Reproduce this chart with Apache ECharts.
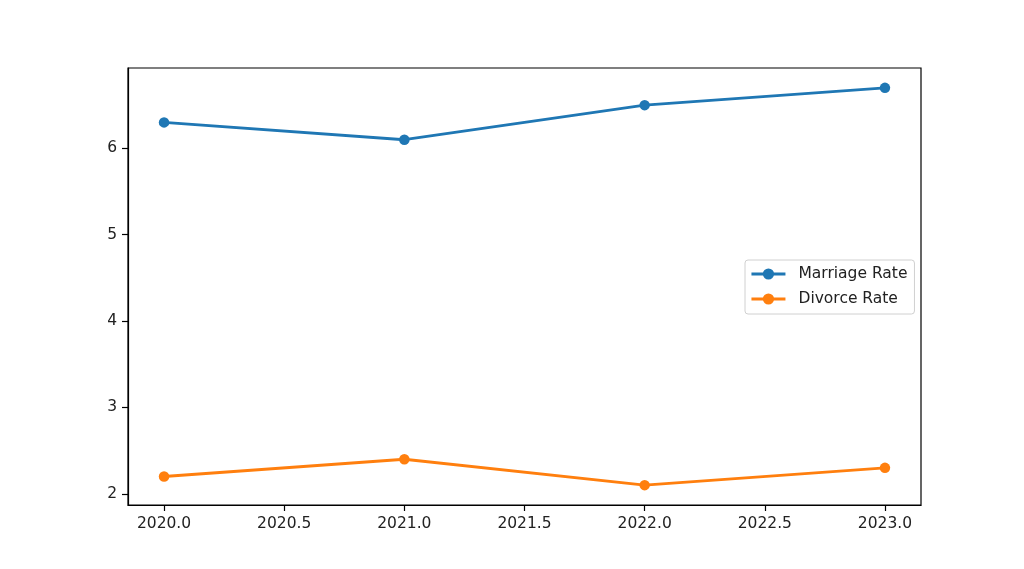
<!DOCTYPE html>
<html>
<head>
<meta charset="utf-8">
<script src="https://cdn.jsdelivr.net/npm/echarts@6/dist/echarts.min.js"></script>
<style>html,body{margin:0;padding:0;background:#fff}#c{width:1024px;height:569px}</style>
</head>
<body>
<div id="c"></div>
<script>
const years = [2020, 2021, 2022, 2023];
const marriageRate = [6.3, 6.1, 6.5, 6.7];
const divorceRate = [2.2, 2.4, 2.1, 2.3];
const xTicks = [2020.0, 2020.5, 2021.0, 2021.5, 2022.0, 2022.5, 2023.0];
const yTicks = [2, 3, 4, 5, 6];
const seriesNames = ['Marriage Rate', 'Divorce Rate'];

const font = 'DejaVu Sans';
const fs = 15.5;
const chart = echarts.init(document.getElementById('c'), null, {renderer: 'canvas'});
const mk = (name, data, color) => ({
  name, type: 'line', data: years.map((y, i) => [y, data[i]]),
  symbol: 'circle', symbolSize: 10.5, showSymbol: true,
  lineStyle: {width: 2.9, color}, itemStyle: {color},
  emphasis: {disabled: true}, animation: false
});
chart.setOption({
  animation: false,
  backgroundColor: '#fff',
  grid: {left: 128, right: 103, top: 68, bottom: 64, show: true, borderColor: '#000', borderWidth: 1.2, backgroundColor: 'transparent'},
  xAxis: {
    type: 'value', min: 2019.85, max: 2023.15,
    axisLine: {show: true, lineStyle: {color: '#000', width: 1.2}},
    axisTick: {show: true, inside: false, length: 6, lineStyle: {color: '#000', width: 1.2}, customValues: xTicks},
    axisLabel: {show: true, color: '#222', fontFamily: font, fontSize: fs, margin: 11, customValues: xTicks,
      formatter: v => Number(v).toFixed(1)},
    splitLine: {show: false}
  },
  yAxis: {
    type: 'value', min: 1.87, max: 6.93,
    axisLine: {show: true, lineStyle: {color: '#000', width: 1.2}},
    axisTick: {show: true, inside: false, length: 6, lineStyle: {color: '#000', width: 1.2}, customValues: yTicks},
    axisLabel: {show: true, color: '#222', fontFamily: font, fontSize: fs, margin: 11, customValues: yTicks,
      formatter: v => String(Math.round(v))},
    splitLine: {show: false}
  },
  legend: {
    show: true, orient: 'vertical', left: 745, top: 260,
    data: seriesNames,
    itemWidth: 34, itemHeight: 14, itemGap: 9,
    padding: [6, 7, 7, 5],
    lineStyle: {width: 2.9},
    backgroundColor: '#fff', borderColor: '#d0d0d0', borderWidth: 1, borderRadius: 3,
    textStyle: {color: '#222', fontFamily: font, fontSize: fs, padding: [0, 0, 0, 8]}
  },
  series: [
    mk(seriesNames[0], marriageRate, '#1f77b4'),
    mk(seriesNames[1], divorceRate, '#ff7f0e')
  ]
});
</script>
</body>
</html>
